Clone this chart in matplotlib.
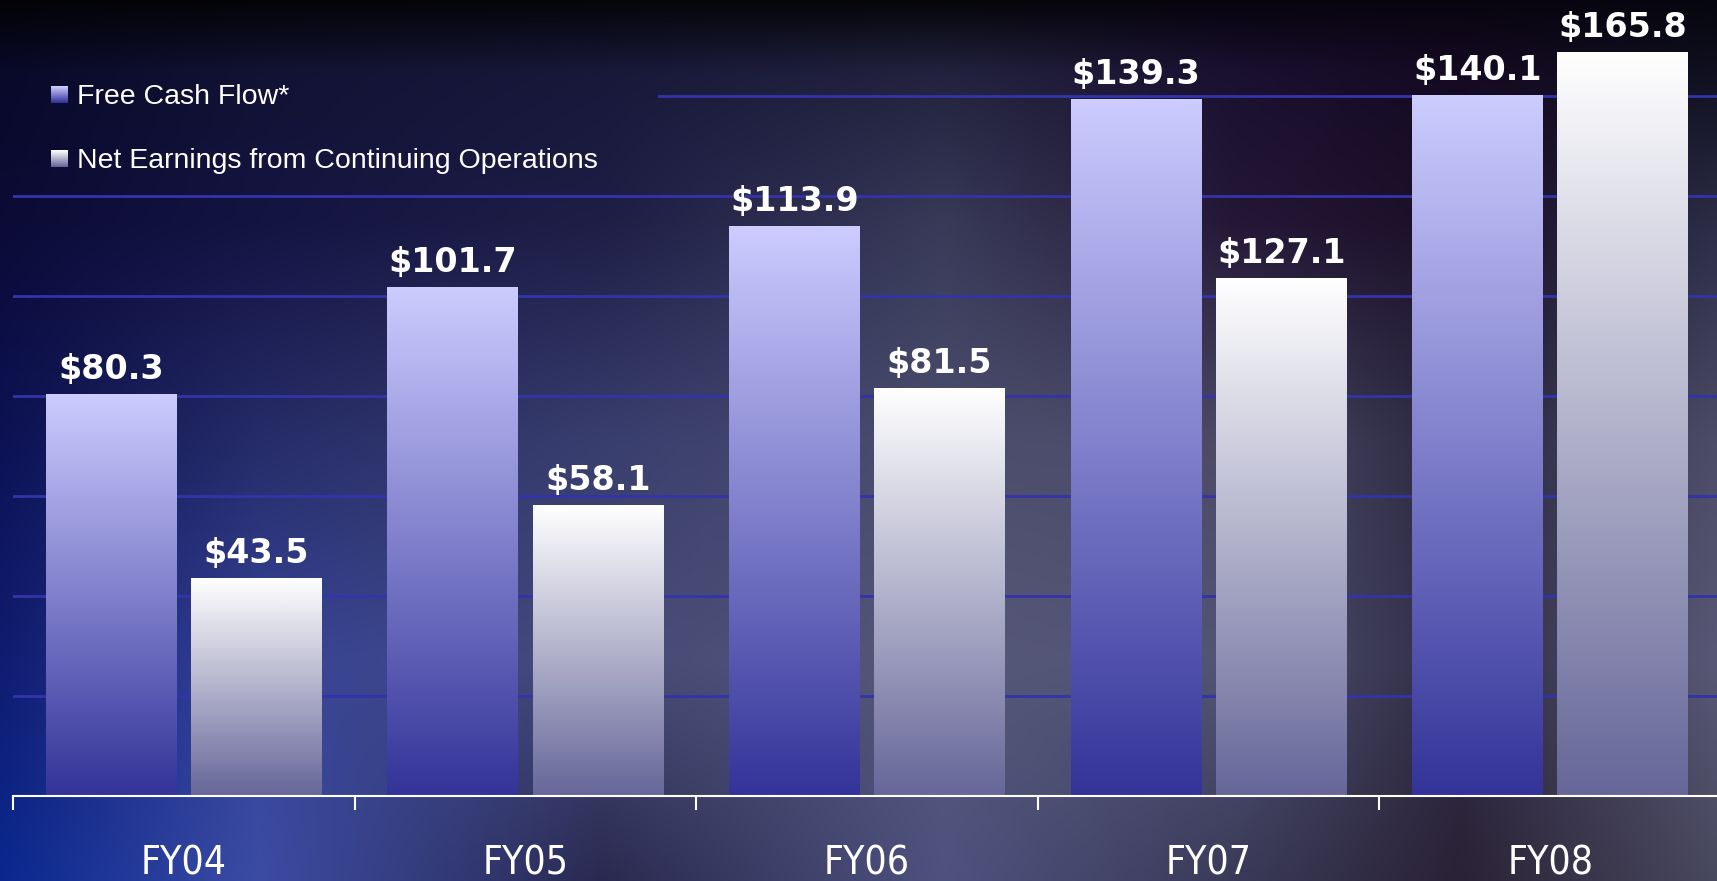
import numpy as np
import matplotlib.pyplot as plt
import matplotlib.colors as mcolors
from matplotlib import font_manager

# data
years = ['FY04', 'FY05', 'FY06', 'FY07', 'FY08']
series = ['Free Cash Flow*', 'Net Earnings from Continuing Operations']
fcf_height = [80.3, 101.7, 113.9, 139.3, 140.1]
ne_height = [43.5, 58.1, 81.5, 103.6, 148.8]   # heights as drawn (last two don't match their labels)
fcf_label = ['$80.3', '$101.7', '$113.9', '$139.3', '$140.1']
ne_label = ['$43.5', '$58.1', '$81.5', '$127.1', '$165.8']
grid_values = [20, 40, 60, 80, 100, 120, 140]

# look for a condensed face for the year labels, else plain Liberation Sans
cond = [f for f in font_manager.fontManager.ttflist
        if ('ondensed' in str(f.stretch) or 'Narrow' in f.name or 'Condensed' in f.name)
        and f.weight in (400, 'normal', 'regular')]
if cond:
    year_font = dict(family=cond[0].name, stretch=cond[0].stretch, size=28)
else:
    year_font = dict(family='Liberation Sans', size=26)
legend_font = 'Liberation Sans'

W, H = 1717, 881
fig = plt.figure(figsize=(W / 100, H / 100), dpi=100)

# --- background: rough photo-like colour field ---
bx = [0.0, 0.15, 0.35, 0.55, 0.72, 0.85, 1.0]
by = [0.0, 0.08, 0.25, 0.5, 0.75, 1.0]
bg_hex = [
    ['#030307', '#040408', '#05050a', '#06060b', '#07040e', '#08040f', '#06060f'],
    ['#09092a', '#121234', '#18183a', '#22223e', '#1a1030', '#150a22', '#101020'],
    ['#0b0b36', '#141442', '#1e1e46', '#383a58', '#241736', '#1a0f28', '#2c2c46'],
    ['#0c1254', '#262c68', '#383e6e', '#4c4e6e', '#4c4a66', '#2a2840', '#4c4c68'],
    ['#101c70', '#36449a', '#464a76', '#565878', '#525476', '#302c44', '#585876'],
    ['#0a2890', '#3c4ca4', '#2a2a50', '#4e527e', '#3a3a58', '#2a2236', '#48485e'],
]
grid_rgb = np.array([[mcolors.to_rgb(c) for c in row] for row in bg_hex])
xs = np.linspace(0, 1, 400)
ys = np.linspace(0, 1, 220)
tmp = np.stack([np.stack([np.interp(xs, bx, grid_rgb[r, :, k]) for k in range(3)], -1)
                for r in range(len(by))])
bg = np.stack([np.stack([np.interp(ys, by, tmp[:, i, k]) for k in range(3)], -1)
               for i in range(len(xs))], 1)
bax = fig.add_axes([0, 0, 1, 1], zorder=-1)
bax.imshow(bg, extent=[0, 1, 0, 1], origin='upper', aspect='auto', interpolation='bicubic')
bax.axis('off')

# --- main chart ---
ax = fig.add_axes([13 / W, 85 / H, (1721 - 13) / W, 790 / H])
ax.patch.set_visible(False)

x = np.arange(len(years))
bw = 0.383
off = 0.2125
b1 = ax.bar(x - off, fcf_height, bw, color='none', zorder=3)
b2 = ax.bar(x + off, ne_height, bw, color='none', zorder=3)


def gradient(top, bottom, n=256):
    t = np.linspace(0, 1, n)[:, None, None]
    return (1 - t) * np.array(mcolors.to_rgb(top)) + t * np.array(mcolors.to_rgb(bottom))


fcf_cols = ('#ccccff', '#333399')
ne_cols = ('#ffffff', '#666699')
for bars, cols in ((b1, fcf_cols), (b2, ne_cols)):
    g = gradient(*cols)
    for b in bars:
        x0, y0 = b.get_xy()
        ax.imshow(g, extent=[x0, x0 + b.get_width(), y0, y0 + b.get_height()],
                  origin='upper', aspect='auto', interpolation='bilinear', zorder=3)

for bars, labs in ((b1, fcf_label), (b2, ne_label)):
    for b, lab in zip(bars, labs):
        ax.annotate(lab, (b.get_x() + b.get_width() / 2, b.get_height()),
                    xytext=(0, 11), textcoords='offset points', ha='center', va='baseline',
                    color='white', fontsize=24, fontweight='bold', family='DejaVu Sans',
                    zorder=5, annotation_clip=False)

# gridlines; the top one is hidden behind the legend on the left
for v in grid_values:
    ax.axhline(v, xmin=0.378 if v == 140 else 0, color='#3333aa', lw=2, zorder=1)

ax.set_xlim(-0.5, 4.5)
ax.set_ylim(0, 158)
ax.set_yticks([])
for s in ('top', 'right', 'left'):
    ax.spines[s].set_visible(False)
ax.spines['bottom'].set_color('white')
ax.spines['bottom'].set_linewidth(1.5)
ax.spines['bottom'].set_zorder(4)

ax.set_xticks(x)
ax.set_xticklabels(years, fontdict={k: v for k, v in year_font.items() if k != 'size'})
ax.set_xticks(np.arange(-0.5, 5, 1), minor=True)
ax.tick_params(axis='x', which='major', length=0, pad=35, labelsize=year_font['size'],
               labelcolor='white')
ax.tick_params(axis='x', which='minor', length=10, width=1.5, color='white', direction='out')

# --- legend drawn by hand (gradient swatches) ---
sw = 17
for i, (name, cols) in enumerate(zip(series, (fcf_cols, ne_cols))):
    yc = 95 + i * 64
    sq = np.repeat(gradient(*cols, n=sw), sw, axis=1)
    fig.figimage(sq, xo=51, yo=H - yc - sw // 2, origin='upper', zorder=6)
    fig.text(77 / W, 1 - (yc + 2) / H, name, color='white', fontsize=20.5, family=legend_font,
             va='center', ha='left', zorder=6)

fig.savefig('out.png', dpi=100)
